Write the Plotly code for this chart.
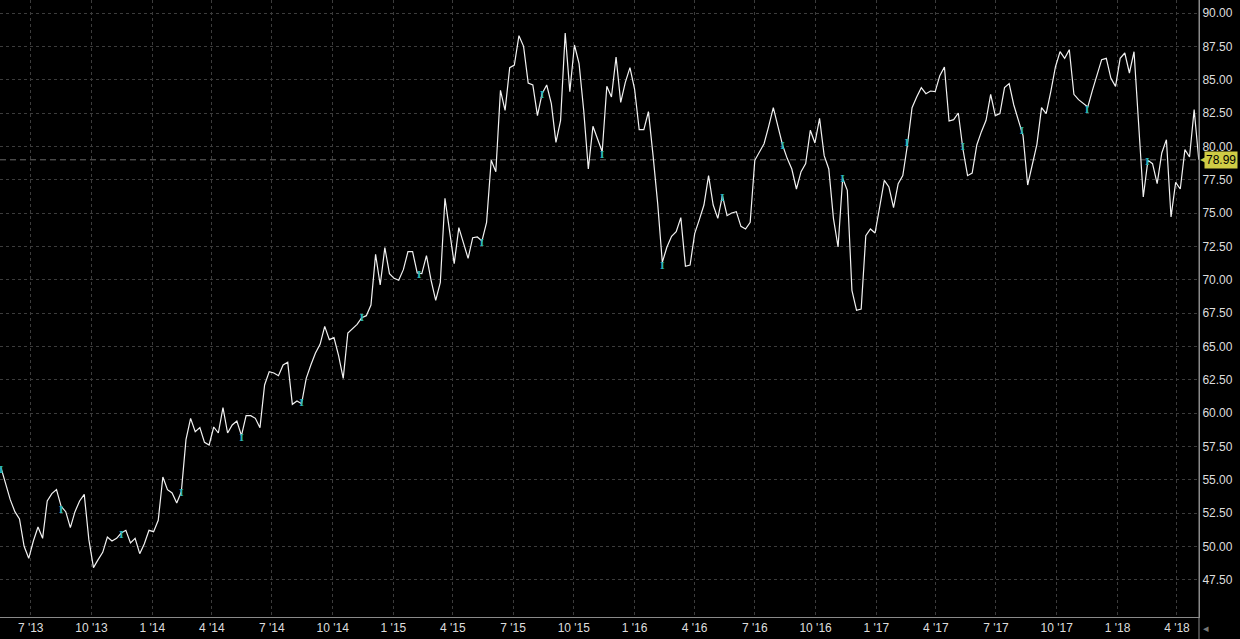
import pandas as pd
import plotly.graph_objects as go

# Weekly closing prices
prices = [
    55.9, 54.6, 53.5, 52.6, 52.05, 50.0, 49.1, 50.4, 51.45, 50.6,
    53.4, 53.95, 54.25, 53.0, 52.6, 51.4, 52.6, 53.4, 53.9, 50.5,
    48.4, 49.0, 49.55, 50.7, 50.4, 50.6, 51.0, 51.2, 50.25, 50.6,
    49.45, 50.2, 51.2, 51.1, 51.95, 55.2, 54.25, 54.0, 53.25, 54.1,
    58.0, 59.6, 58.6, 58.9,
    57.8, 57.6, 58.95, 58.5, 60.4, 58.5, 59.1, 59.4, 58.3, 59.8,
    59.8, 59.6, 58.9, 62.1, 63.1, 63.0, 62.8, 63.6, 63.8, 60.65,
    60.9, 60.7, 62.6, 63.6, 64.5, 65.15, 66.5, 65.5, 65.65, 64.3,
    62.6, 66.0, 66.3, 66.65, 67.15, 67.3, 68.1, 71.9, 69.6, 72.4,
    70.45, 70.1, 69.95,
    70.75, 72.1, 72.1, 70.5, 70.45, 71.8, 69.95, 68.45, 69.8, 76.1,
    73.7, 71.2, 73.9, 72.65, 71.6, 73.15, 73.2, 72.9, 74.3, 78.95,
    78.1, 84.2, 82.7, 85.9, 86.1, 88.3, 87.5, 84.75, 84.6, 82.3,
    83.95, 84.6, 83.2, 80.3, 81.95, 88.5, 84.1, 87.6, 86.2, 82.7,
    78.3, 81.5, 80.6, 79.6,
    84.5, 83.7, 86.7, 83.3, 84.8, 85.9, 84.3, 81.25, 81.25, 82.6,
    79.3, 75.7, 71.3, 72.45, 73.25, 73.6, 74.65, 71.0, 71.1, 73.45,
    74.5, 75.6, 77.8, 75.6, 74.6, 76.3, 74.8, 75.0, 75.1, 74.0,
    73.8, 74.3, 78.95, 79.6, 80.2, 81.5, 82.9, 81.5, 80.1, 79.1,
    78.3, 76.8, 78.1,
    78.7, 81.2, 80.25, 82.1, 79.3, 78.3, 74.6, 72.45, 77.6, 76.7,
    69.2, 67.7, 67.8, 73.3, 73.8, 73.5, 75.45, 77.45, 76.95, 75.4,
    77.2, 77.8, 80.1, 82.9, 83.7, 84.4, 83.95, 84.15, 84.1, 85.3,
    85.95, 81.9, 82.0, 82.5, 79.8, 77.8, 78.0, 80.1, 81.1, 81.95,
    83.9, 82.3,
    82.45, 84.4, 84.7, 83.1, 81.95, 80.8, 77.1, 78.6, 80.15, 82.9,
    82.45, 84.1, 85.95, 87.1, 86.6, 87.25, 83.9, 83.5, 83.25, 82.95,
    84.2, 85.45, 86.5, 86.6, 85.1, 84.5, 86.6, 87.0, 85.5, 87.1,
    81.95, 76.2, 78.95, 78.7, 77.2, 79.5, 80.5, 74.7, 77.3, 76.8,
    79.75, 79.2, 82.75, 78.99,
]
start_date = "2013-05-17"
dates = pd.date_range(start_date, periods=len(prices), freq="7D")

# Event (dividend) markers
event_dates = [
    "2013-05-17", "2013-08-16", "2013-11-15", "2014-02-14", "2014-05-16",
    "2014-08-15", "2014-11-14", "2015-02-09", "2015-05-15", "2015-08-14",
    "2015-11-13", "2016-02-12", "2016-05-13", "2016-08-12", "2016-11-11",
    "2017-02-16", "2017-05-12", "2017-08-09", "2017-11-16", "2018-02-15",
]
event_values = [
    55.7, 52.7, 50.8, 54.0, 58.1, 60.75, 67.1, 70.35, 72.75, 83.8,
    79.35, 71.0, 76.1, 80.0, 77.55, 80.2, 79.95, 81.1, 82.7, 78.8,
]

# Y-axis tick values
y_ticks = [47.5, 50.0, 52.5, 55.0, 57.5, 60.0, 62.5, 65.0, 67.5, 70.0,
           72.5, 75.0, 77.5, 80.0, 82.5, 85.0, 87.5, 90.0]

last_price = 78.99
x_range = ["2013-05-15 12:00", "2018-05-04 08:00"]
y_range = [44.7, 90.975]
grid_color = "#3c3c3c"
text_color = "#dedede"
axis_color = "#8a8a8a"

fig = go.Figure()
fig.add_trace(go.Scatter(
    x=dates, y=prices, mode="lines",
    line=dict(color="#f2f2f2", width=1.2),
    hoverinfo="skip", showlegend=False,
))
fig.add_trace(go.Scatter(
    x=event_dates, y=event_values, mode="text", text=["I"] * len(event_values),
    textfont=dict(family="DejaVu Serif", size=10, color="#2cb5b5", weight="bold"),
    hoverinfo="skip", showlegend=False,
))

# last price dashed line
fig.add_shape(type="line", xref="paper", yref="y", x0=0, x1=1,
              y0=last_price, y1=last_price,
              line=dict(color="#6a6a6a", width=1, dash="6px,4px"), layer="below")
# vertical axis line extension to bottom
fig.add_shape(type="line", xref="paper", yref="paper", x0=1, x1=1,
              y0=-22 / 617, y1=1, line=dict(color=axis_color, width=1))

fig.add_annotation(xref="paper", yref="y", x=1, y=last_price, text="78.99",
                   showarrow=False, xanchor="left", xshift=5,
                   bgcolor="#cfcc45", borderpad=1,
                   font=dict(family="Liberation Sans", size=12, color="#000000"))
fig.add_annotation(xref="paper", yref="y", x=1, y=last_price, text="◀",
                   showarrow=False, xanchor="left", xshift=-1,
                   font=dict(family="DejaVu Sans", size=8, color="#cfcc45"))
fig.add_annotation(xref="paper", yref="paper", x=1, y=-11 / 617, text="◂",
                   showarrow=False, xanchor="left", yanchor="middle", xshift=2,
                   font=dict(family="DejaVu Sans", size=11, color="#777777"))

fig.update_layout(
    width=1240, height=639,
    paper_bgcolor="#000000", plot_bgcolor="#000000",
    margin=dict(l=0, r=41, t=0, b=22, autoexpand=False),
    showlegend=False,
    xaxis=dict(
        range=x_range, type="date", automargin=False,
        tick0="2013-01-01", dtick="M3", tickformat="%-m '%y",
        showgrid=True, gridcolor=grid_color, griddash="3px,3px", gridwidth=1,
        showline=True, linecolor=axis_color, linewidth=1,
        ticks="", zeroline=False,
        tickfont=dict(family="Liberation Sans", size=12, color=text_color),
    ),
    yaxis=dict(
        range=y_range, side="right", automargin=False,
        tickmode="array", tickvals=y_ticks, tickformat=".2f",
        showgrid=True, gridcolor=grid_color, griddash="3px,3px", gridwidth=1,
        showline=True, linecolor=axis_color, linewidth=1,
        ticks="", zeroline=False,
        tickfont=dict(family="Liberation Sans", size=12, color=text_color),
    ),
)

fig.write_html(
    "out.html",
    config={"displayModeBar": False},
    post_script="document.body.style.margin='0';document.body.style.background='#000';",
)
